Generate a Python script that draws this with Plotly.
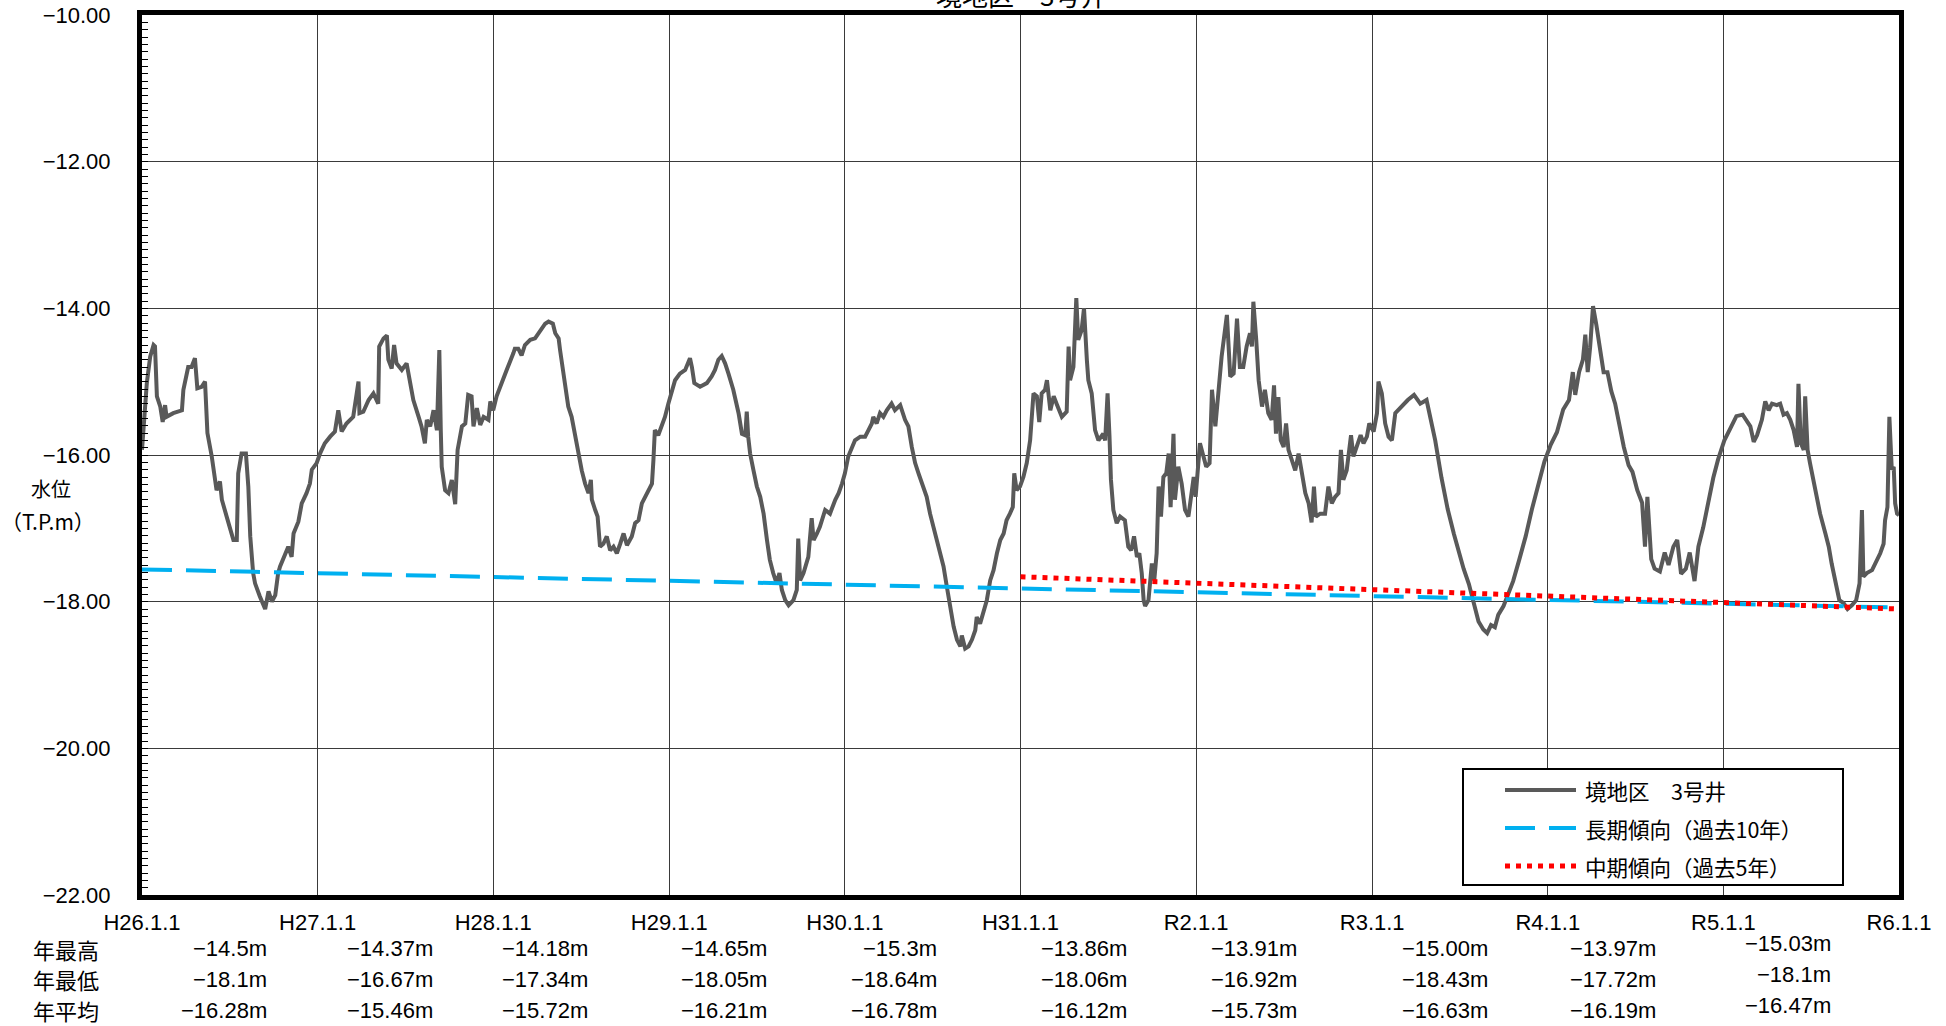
import pandas as pd
import plotly.graph_objects as go

# ---------------- data ----------------
# days since 2014-01-01 (H26.1.1) and groundwater level (T.P.m)
days = [
    0, 10, 17, 24, 27, 31, 38, 43, 48, 51, 65, 83, 86, 96, 103, 110, 115, 124, 131, 136,
    145, 155, 162, 166, 176, 183, 190, 197, 200, 207, 216, 221, 225, 231, 235, 245, 256, 263, 270, 277,
    283, 287, 297, 304, 311, 315, 325, 332, 342, 349, 353, 363, 370, 380, 391, 401, 408, 415, 425, 439,
    450, 452, 460, 471, 481, 491, 493, 502, 509, 512, 519, 524, 529, 540, 550, 557, 564, 575, 581, 588,
    592, 599, 606, 613, 618, 621, 623, 630, 637, 644, 651, 656, 665, 672, 678, 685, 689, 696, 703, 710,
    720, 724, 730, 737,
    751, 758, 772, 775, 782, 789, 796, 807, 817, 824, 831, 838, 845, 854, 859, 866, 869, 876, 883, 886,
    893, 900, 907, 914, 921, 928, 933, 935, 942, 947, 952, 959, 966, 973, 980, 987, 994, 1001, 1008, 1018,
    1025, 1032, 1039, 1049, 1060, 1063, 1066, 1073, 1080, 1087, 1094, 1101, 1108, 1118, 1129, 1139, 1143, 1148, 1160, 1174,
    1184, 1191, 1198, 1205, 1212, 1219, 1229, 1240, 1247, 1254, 1257, 1260, 1264, 1271, 1278, 1285, 1292, 1299, 1305, 1312,
    1319, 1325, 1330, 1337, 1344, 1354, 1361, 1364, 1368, 1375, 1385, 1392, 1396, 1403, 1409, 1420, 1430, 1441, 1448, 1455,
    1461, 1468, 1475, 1482, 1493, 1503, 1510, 1517, 1520, 1527, 1534, 1541, 1548, 1555, 1558, 1565, 1576, 1586, 1593, 1600,
    1607, 1614, 1624, 1631, 1638, 1645, 1652, 1659, 1666, 1673, 1680, 1687, 1694, 1701, 1704, 1711, 1718, 1725, 1732, 1735,
    1742, 1749, 1756, 1763, 1770, 1777, 1784,
    1791, 1797, 1804, 1810, 1813, 1818, 1825, 1832, 1839, 1846, 1853, 1860, 1865, 1870, 1877, 1881, 1888, 1895, 1901, 1912,
    1922, 1926, 1929, 1936, 1942, 1946, 1953, 1958, 1964, 1967, 1974, 1981, 1988, 1998, 2002, 2007, 2011, 2014, 2019, 2026,
    2033, 2043, 2050, 2056, 2062, 2068, 2073, 2078, 2082, 2085, 2092, 2099, 2104, 2109, 2113, 2118, 2123, 2129, 2134, 2138,
    2144, 2147, 2154, 2161, 2168, 2175, 2186, 2190, 2199, 2206, 2212, 2219, 2224, 2231, 2238, 2244, 2255, 2262, 2269, 2276,
    2282, 2289, 2296, 2303, 2307, 2310, 2316, 2321, 2328, 2334, 2341, 2348, 2353, 2357, 2362, 2367, 2373, 2378, 2383, 2390,
    2397, 2404, 2411, 2418, 2425, 2431, 2436, 2440, 2449, 2459, 2466, 2473, 2480, 2487, 2492, 2497, 2504, 2513, 2518, 2525,
    2533, 2539, 2546, 2551, 2560, 2567, 2570, 2577, 2584, 2591, 2598, 2605, 2615,
    2631, 2644, 2657, 2670, 2677, 2688, 2701, 2714, 2727, 2737, 2747, 2758, 2768, 2778, 2788, 2796, 2804, 2812, 2819, 2830,
    2840, 2850, 2863, 2876, 2889, 2902, 2915, 2928, 2941, 2954, 2966, 2974, 2979, 2987, 2995, 3000, 3005, 3010, 3016, 3023,
    3031, 3038, 3046, 3054, 3062, 3069, 3080, 3090, 3098, 3108, 3118, 3124, 3129, 3137, 3144, 3155, 3165, 3173, 3183, 3191,
    3199, 3209, 3217, 3227, 3235, 3245, 3255, 3266, 3276, 3289, 3302, 3314, 3327,
    3343, 3350, 3357, 3367, 3374, 3381, 3388, 3398, 3405, 3412, 3419, 3426, 3433, 3440, 3443, 3448, 3454, 3457, 3462, 3467,
    3474, 3481, 3488, 3499, 3506, 3512, 3519, 3528, 3537, 3545, 3554, 3563, 3570, 3575, 3578, 3585, 3596, 3603, 3613, 3620,
    3623, 3628, 3632, 3637, 3641, 3644, 3648, 3652,
]
level = [
    -15.93, -15.02, -14.66, -14.50, -14.52, -15.20, -15.34, -15.55, -15.32, -15.48, -15.43, -15.39, -15.11, -14.80, -14.80, -14.68, -15.09, -15.07, -15.00, -15.70,
    -16.02, -16.48, -16.36, -16.61, -16.84, -16.98, -17.16, -17.16, -16.25, -15.98, -15.98, -16.43, -17.11, -17.61, -17.75, -17.93, -18.10, -17.86, -18.00, -17.91,
    -17.61, -17.52, -17.34, -17.25, -17.39, -17.07, -16.91, -16.66, -16.52, -16.39, -16.20, -16.11, -15.98, -15.84, -15.75, -15.68, -15.39, -15.68, -15.57, -15.48,
    -15.00, -15.43, -15.41, -15.25, -15.16, -15.30, -14.52, -14.41, -14.37, -14.70, -14.82, -14.50, -14.75, -14.84, -14.75, -14.98, -15.25, -15.48, -15.61, -15.84,
    -15.52, -15.61, -15.39, -15.66, -14.57, -15.66, -16.16, -16.48, -16.52, -16.34, -16.67, -15.93, -15.61, -15.57, -15.18, -15.20, -15.61, -15.36, -15.59, -15.48,
    -15.52, -15.27, -15.39, -15.20,
    -14.98, -14.84, -14.61, -14.55, -14.55, -14.64, -14.50, -14.43, -14.41, -14.34, -14.27, -14.21, -14.18, -14.21, -14.34, -14.41, -14.57, -14.93, -15.20, -15.34,
    -15.48, -15.75, -15.98, -16.21, -16.39, -16.52, -16.34, -16.61, -16.75, -16.84, -17.25, -17.21, -17.11, -17.30, -17.25, -17.34, -17.21, -17.07, -17.23, -17.11,
    -16.93, -16.89, -16.66, -16.52, -16.39, -16.07, -15.66, -15.73, -15.61, -15.48, -15.30, -15.14, -14.98, -14.89, -14.84, -14.68, -14.80, -15.02, -15.07, -15.02,
    -14.93, -14.84, -14.70, -14.65, -14.75, -14.89, -15.11, -15.43, -15.71, -15.73, -15.41, -15.75, -15.98, -16.21, -16.43, -16.57, -16.80, -17.16, -17.43, -17.61,
    -17.75, -17.61, -17.84, -17.98, -18.05, -17.98, -17.84, -17.14, -17.71, -17.61, -17.39, -16.86, -17.16, -17.07, -16.98, -16.75, -16.80, -16.61, -16.52, -16.39,
    -16.25, -16.02, -15.91, -15.80, -15.75, -15.75, -15.66, -15.57, -15.48, -15.57, -15.43, -15.48, -15.39, -15.34, -15.30, -15.39, -15.32, -15.52, -15.61, -15.89,
    -16.11, -16.25, -16.43, -16.57, -16.80, -16.98, -17.21, -17.34, -17.52, -17.80, -18.07, -18.34, -18.52, -18.61, -18.46, -18.64, -18.61, -18.52, -18.39, -18.21,
    -18.30, -18.16, -17.98, -17.71, -17.57, -17.34, -17.16,
    -17.07, -16.89, -16.80, -16.71, -16.25, -16.48, -16.43, -16.30, -16.11, -15.80, -15.16, -15.20, -15.55, -15.16, -15.11, -14.98, -15.39, -15.20, -15.30, -15.48,
    -15.41, -14.52, -14.98, -14.80, -13.86, -14.43, -14.30, -14.00, -14.71, -14.98, -15.16, -15.66, -15.80, -15.71, -15.80, -15.16, -15.75, -16.34, -16.75, -16.93,
    -16.84, -16.89, -17.25, -17.30, -17.11, -17.39, -17.34, -17.61, -17.98, -18.06, -17.98, -17.48, -17.71, -17.34, -16.43, -16.84, -16.30, -16.25, -15.98, -16.71,
    -15.71, -16.61, -16.16, -16.39, -16.75, -16.84, -16.30, -16.57, -15.84, -16.02, -16.16, -16.11, -15.11, -15.61, -15.07, -14.66, -14.09, -14.93, -14.89, -14.14,
    -14.80, -14.80, -14.52, -14.34, -14.52, -13.91, -14.43, -14.98, -15.34, -15.11, -15.43, -15.52, -15.05, -15.71, -15.21, -15.80, -15.89, -15.57, -15.93, -16.07,
    -16.21, -15.98, -16.25, -16.52, -16.66, -16.92, -16.43, -16.84, -16.80, -16.80, -16.43, -16.66, -16.57, -16.52, -15.93, -16.34, -16.21, -15.73, -16.02, -15.89,
    -15.73, -15.84, -15.75, -15.57, -15.68, -15.43, -15.00, -15.16, -15.57, -15.75, -15.80, -15.43, -15.36,
    -15.25, -15.18, -15.30, -15.25, -15.47, -15.80, -16.31, -16.74, -17.08, -17.33, -17.55, -17.76, -18.01, -18.27, -18.38, -18.43, -18.32, -18.35, -18.18, -18.06,
    -17.89, -17.72, -17.42, -17.11, -16.74, -16.40, -16.09, -15.86, -15.69, -15.38, -15.25, -14.87, -15.18, -14.87, -14.70, -14.36, -14.87, -14.53, -13.97, -14.23,
    -14.62, -14.87, -14.87, -15.13, -15.30, -15.55, -15.89, -16.14, -16.23, -16.48, -16.65, -17.25, -16.57, -17.42, -17.55, -17.59, -17.33, -17.50, -17.25, -17.16,
    -17.62, -17.55, -17.33, -17.72, -17.25, -16.99, -16.65, -16.31, -16.06, -15.80, -15.63, -15.47, -15.45,
    -15.61, -15.82, -15.73, -15.52, -15.27, -15.39, -15.30, -15.32, -15.30, -15.45, -15.43, -15.52, -15.66, -15.89, -15.03, -15.84, -15.93, -15.20, -15.93, -16.11,
    -16.34, -16.57, -16.80, -17.07, -17.25, -17.48, -17.71, -17.98, -18.02, -18.10, -18.05, -17.98, -17.75, -16.75, -17.66, -17.61, -17.57, -17.48, -17.34, -17.21,
    -16.89, -16.71, -15.48, -16.20, -16.16, -16.66, -16.80, -16.82,
]

# trend lines (end points)
long_dates = ["2014-01-01", "2024-01-01"]
long_vals = [-17.56, -18.08]
mid_dates = ["2019-01-01", "2024-01-01"]
mid_vals = [-17.66, -18.10]

# x tick labels (Japanese era dates)
tick_years = list(range(2014, 2025))
tick_labels = ["H26.1.1", "H27.1.1", "H28.1.1", "H29.1.1", "H30.1.1", "H31.1.1",
               "R2.1.1", "R3.1.1", "R4.1.1", "R5.1.1", "R6.1.1"]

# annual statistics
stat_rows = ["年最高", "年最低", "年平均"]
year_max = ["−14.5m", "−14.37m", "−14.18m", "−14.65m", "−15.3m", "−13.86m", "−13.91m", "−15.00m", "−13.97m", "−15.03m"]
year_min = ["−18.1m", "−16.67m", "−17.34m", "−18.05m", "−18.64m", "−18.06m", "−16.92m", "−18.43m", "−17.72m", "−18.1m"]
year_avg = ["−16.28m", "−15.46m", "−15.72m", "−16.21m", "−16.78m", "−16.12m", "−15.73m", "−16.63m", "−16.19m", "−16.47m"]

series_names = ["境地区　3号井", "長期傾向（過去10年）", "中期傾向（過去5年）"]
title_text = "境地区　3号井"

# ---------------- styling / layout constants ----------------
JP = "Noto Sans CJK JP"
NUM = "Liberation Sans, Noto Sans CJK JP"
COLORS = ["#595959", "#00B0F0", "#FF0000"]
WIDTHS = [4, 4, 5]
DASHES = ["solid", "30px,14px", "5px,6px"]

W, H = 1946, 1026
L, R, T, B = 142, 47, 15, 131
PW, PH = W - L - R, H - T - B

# per-column pixel nudges of the statistics text (right edge relative to mid-year)
col_xshift = [39, 30, 9, 12, 7, 21, 15, 30, 23, 22]
col_yshift = [0, 0, 0, 0, 0, 0, 0, 0, 0, 5]


def px(xp):
    return (xp - L) / PW


def py(yp):
    return (H - B - yp) / PH


dates = pd.Timestamp("2014-01-01") + pd.to_timedelta(days, unit="D")

fig = go.Figure()
fig.add_trace(go.Scatter(x=dates, y=level, mode="lines", name=series_names[0],
                         line=dict(color=COLORS[0], width=WIDTHS[0])))
fig.add_trace(go.Scatter(x=long_dates, y=long_vals, mode="lines", name=series_names[1],
                         line=dict(color=COLORS[1], width=WIDTHS[1], dash=DASHES[1])))
fig.add_trace(go.Scatter(x=mid_dates, y=mid_vals, mode="lines", name=series_names[2],
                         line=dict(color=COLORS[2], width=WIDTHS[2], dash=DASHES[2])))

fig.update_layout(
    width=W, height=H,
    margin=dict(l=L, r=R, t=T, b=B, autoexpand=False),
    paper_bgcolor="white", plot_bgcolor="white",
    font=dict(family=NUM, size=22, color="black"),
    showlegend=False,
)

fig.update_xaxes(
    type="date",
    range=["2014-01-01", "2024-01-01"],
    tickvals=[f"{y}-01-01" for y in tick_years],
    ticktext=tick_labels,
    showgrid=True, gridcolor="#3a3a3a", gridwidth=1,
    showline=True, linecolor="black", linewidth=5, mirror=True,
    ticks="", ticklabelstandoff=4,
    tickfont=dict(family=NUM, size=22),
    zeroline=False, automargin=False,
)
fig.update_yaxes(
    range=[-22, -10], dtick=2, tick0=-22, tickformat=".2f",
    showgrid=True, gridcolor="#3a3a3a", gridwidth=1,
    showline=True, linecolor="black", linewidth=5, mirror=True,
    ticks="inside", ticklen=6, tickcolor="black",
    minor=dict(dtick=0.1, ticks="inside", ticklen=6, tickcolor="black", tickwidth=1, showgrid=False),
    ticklabelstandoff=22,
    tickfont=dict(family=NUM, size=22),
    zeroline=False, automargin=False,
)

ann = []
shapes = []
# title (clipped at top like the reference)
ann.append(dict(text=title_text, xref="paper", yref="paper", x=0.5, y=1, yanchor="bottom",
                yshift=0, showarrow=False, font=dict(family=JP, size=26, color="black")))
# y-axis title
ann.append(dict(text="水位", xref="paper", yref="paper", x=px(51), y=py(488),
                xanchor="center", yanchor="middle", showarrow=False, font=dict(family=JP, size=20)))
ann.append(dict(text="（T.P.m）", xref="paper", yref="paper", x=px(48), y=py(521),
                xanchor="center", yanchor="middle", showarrow=False, font=dict(family=JP, size=21)))

# statistics table
row_pix = [949, 979, 1010]
for label, vals, yp in zip(stat_rows, [year_max, year_min, year_avg], row_pix):
    ann.append(dict(text=label, xref="paper", yref="paper", x=px(31), y=py(yp),
                    xanchor="left", yanchor="middle", showarrow=False,
                    font=dict(family=JP, size=22)))
    for i, v in enumerate(vals):
        mid = pd.Timestamp(f"{tick_years[i]}-07-02")
        ann.append(dict(text=v, xref="x", yref="paper", x=mid, y=py(yp),
                        xanchor="right", yanchor="middle",
                        xshift=col_xshift[i], yshift=col_yshift[i], showarrow=False,
                        font=dict(family=NUM, size=22)))

# legend (box, samples, labels)
LEG_BOX = (1463, 769, 1843, 885)
LEG_ROWS = [790, 828, 866]
shapes.append(dict(type="rect", xref="paper", yref="paper",
                   x0=px(LEG_BOX[0]), x1=px(LEG_BOX[2]), y0=py(LEG_BOX[3]), y1=py(LEG_BOX[1]),
                   line=dict(color="black", width=2), fillcolor="white", layer="above"))
for i, yp in enumerate(LEG_ROWS):
    shapes.append(dict(type="line", xref="paper", yref="paper",
                       x0=px(1505), x1=px(1576), y0=py(yp), y1=py(yp),
                       line=dict(color=COLORS[i], width=WIDTHS[i], dash=DASHES[i]), layer="above"))
    ann.append(dict(text=series_names[i], xref="paper", yref="paper", x=px(1583), y=py(yp),
                    xanchor="left", yanchor="middle", showarrow=False,
                    font=dict(family=JP, size=21.5, color="black")))

fig.update_layout(annotations=ann, shapes=shapes)

fig.write_html("out.html", include_plotlyjs=True, config={"displayModeBar": False},
               post_script="document.body.style.margin='0';document.body.style.overflow='hidden';")
